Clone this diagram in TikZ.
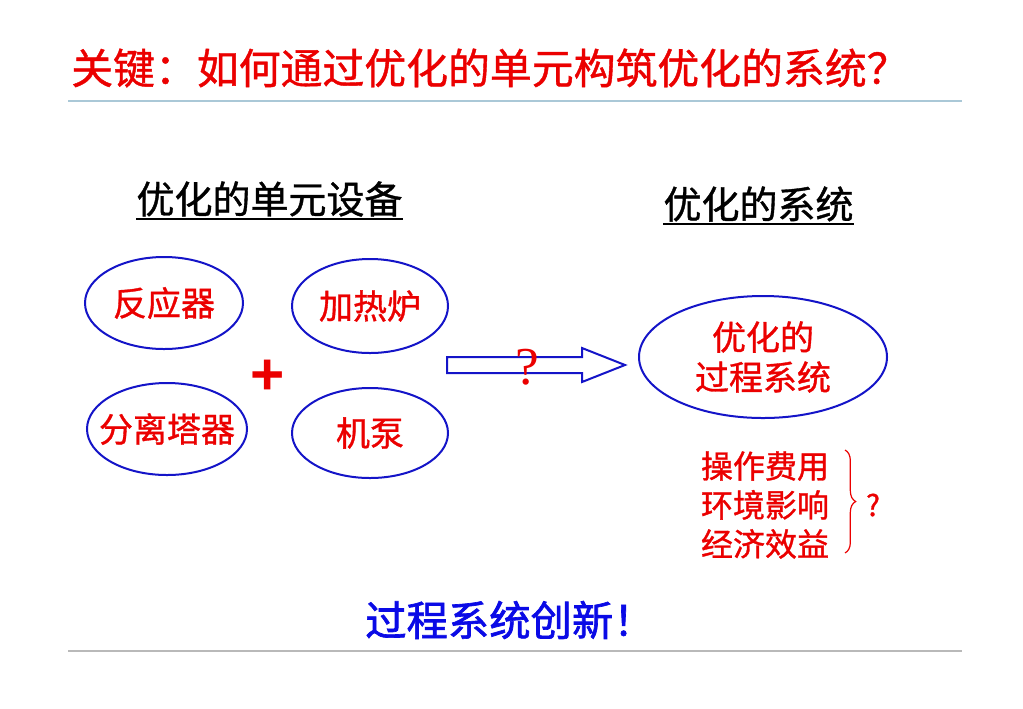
\documentclass[tikz,border=0pt]{standalone}
\usepackage{fontspec}
\newfontfamily\cjk[FakeBold=1]{Noto Sans CJK SC}
\newfontfamily\cjkh[FakeBold=1.6]{Noto Sans CJK SC}
\newfontfamily\serifq{Liberation Serif}
\newfontfamily\sansb{Liberation Sans}
\usetikzlibrary{shapes.geometric,decorations.pathreplacing}
\definecolor{tred}{RGB}{235,0,0}
\definecolor{eblue}{RGB}{20,20,200}
\definecolor{bblue}{RGB}{10,10,230}
\definecolor{topline}{RGB}{170,200,215}
\definecolor{botline}{RGB}{185,185,185}
\begin{document}
\begin{tikzpicture}[x=0.75pt,y=-0.75pt,
  unit/.style={ellipse, draw=eblue, line width=1.5pt, fill=white, inner xsep=-40pt, inner ysep=-20pt,
    text=tred, font=\cjk\fontsize{25.5}{30}\selectfont},
  heading/.style={inner sep=0pt, text=black, font=\cjk\fontsize{28.5}{32}\selectfont},
  uline/.style={line width=1.3pt, black},
  listtext/.style={inner sep=0pt, text=tred, align=center, font=\cjk\fontsize{24}{29.25}\selectfont}
]
\useasboundingbox[fill=white] (0,0) rectangle (1023,708);
% title
\node[anchor=west, inner sep=0pt, text=tred, font=\cjk\fontsize{31.4}{34}\selectfont] (title) at (71,68) {关键：如何通过优化的单元构筑优化的系统？};
\coordinate (tl1) at (68,101);
\coordinate (tl2) at (962,101);
\draw[topline, line width=0.8pt] (tl1) -- (tl2);
% headings
\node[heading] (h1) at (269.5,199) {优化的单元设备};
\draw[uline] ([yshift=-1.5pt]h1.south west) -- ([yshift=-1.5pt]h1.south east);
\node[heading] (h2) at (758.5,204) {优化的系统};
\draw[uline] ([yshift=-1.5pt]h2.south west) -- ([yshift=-1.5pt]h2.south east);
% unit ellipses
\node[unit, minimum width=118.5pt, minimum height=69pt] (e1) at (164,303) {反应器};
\node[unit, minimum width=117pt, minimum height=70.5pt] (e2) at (370,306) {加热炉};
\node[unit, minimum width=120pt, minimum height=69pt] (e3) at (167,429) {分离塔器};
\node[unit, minimum width=117pt, minimum height=67.5pt] (e4) at (370,433) {机泵};
\node[inner sep=0pt, text=tred, font=\sansb\bfseries\fontsize{44}{48}\selectfont] (plus) at (268,377) {+};
% hollow arrow
\coordinate (a1) at (447,357);
\coordinate (a2) at (582,357);
\coordinate (a3) at (582,348);
\coordinate (a4) at (625,365);
\coordinate (a5) at (582,382);
\coordinate (a6) at (582,373);
\coordinate (a7) at (447,373);
\draw[eblue, line width=1.5pt, fill=white, line join=miter] (a1) -- (a2) -- (a3) -- (a4) -- (a5) -- (a6) -- (a7) -- cycle;
\node[inner sep=0pt, text=tred, font=\serifq\fontsize{40}{42}\selectfont] (q1) at (527,367) {?};
% system ellipse
\node[unit, align=center, minimum width=186pt, minimum height=91.5pt] (sys) at (763,357) {优化的\\过程系统};
% list with brace
\node[listtext] (list) at (765,505) {操作费用\\环境影响\\经济效益};
\coordinate (b1) at (845,450);
\coordinate (b2) at (845,553);
\draw[tred, line width=0.9pt, decorate, decoration={brace, amplitude=8pt}] (b1) -- (b2);
\node[inner sep=0pt, text=tred, font=\cjk\fontsize{22}{24}\selectfont] (q2) at (873,505) {?};
% bottom
\node[anchor=west, inner sep=0pt, text=bblue, font=\cjkh\fontsize{31}{34}\selectfont] (slogan) at (365,620) {过程系统创新！};
\coordinate (bl1) at (68,651);
\coordinate (bl2) at (962,651);
\draw[botline, line width=0.8pt] (bl1) -- (bl2);
\end{tikzpicture}
\end{document}
